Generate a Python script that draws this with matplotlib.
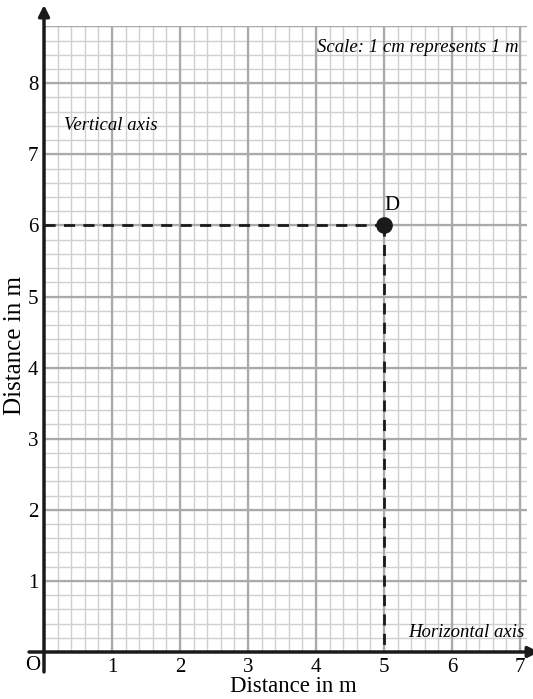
import numpy as np
import matplotlib
matplotlib.use("Agg")
import matplotlib.pyplot as plt

# data
x_ticks = [1, 2, 3, 4, 5, 6, 7]
y_ticks = [1, 2, 3, 4, 5, 6, 7, 8]
point_x = [5]
point_y = [6]
point_names = ["D"]

plt.rcParams["font.family"] = ["Liberation Serif", "DejaVu Serif"]

fig = plt.figure(figsize=(5.33, 6.99), dpi=100)
# 1 unit ~ 68 px across, ~71 px up
ax = fig.add_axes([44 / 533, 47 / 699, 7.1 * 68 / 533, 8.8 * 71.1 / 699])
ax.set_xlim(0, 7.1)
ax.set_ylim(0, 8.8)

# graph paper
minor_x = np.arange(0, 7.01, 0.2)
minor_y = np.arange(0, 8.81, 0.2)
ax.vlines(minor_x, 0, 8.8, color="#d0d0d0", lw=1.0, zorder=1)
ax.hlines(minor_y, 0, 7.1, color="#d0d0d0", lw=1.0, zorder=1)
ax.vlines(x_ticks, 0, 8.8, color="#aaaaaa", lw=1.6, zorder=2)
ax.hlines(y_ticks, 0, 7.1, color="#aaaaaa", lw=1.6, zorder=2)
ax.hlines([8.8], 0, 7.1, color="#aaaaaa", lw=1.6, zorder=2)

for s in ax.spines.values():
    s.set_visible(False)
ax.set_xticks(x_ticks)
ax.set_yticks(y_ticks)
ax.set_xticklabels([str(v) for v in x_ticks], fontsize=15)
ax.set_yticklabels([str(v) for v in y_ticks], fontsize=15)
ax.tick_params(length=0, pad=4)

# axes with arrows
ax.annotate("", xy=(7.28, 0), xytext=(-0.22, 0),
            arrowprops=dict(arrowstyle="-|>", color="#1a1a1a", lw=2.5,
                            mutation_scale=16, shrinkA=0, shrinkB=0),
            annotation_clip=False, zorder=5)
ax.annotate("", xy=(0, 9.1), xytext=(0, -0.28),
            arrowprops=dict(arrowstyle="-|>", color="#1a1a1a", lw=2.5,
                            mutation_scale=16, shrinkA=0, shrinkB=0),
            annotation_clip=False, zorder=5)
ax.text(-0.16, -0.06, "O", fontsize=15, ha="center", va="top")

# dashed guides and the point
for px, py, name in zip(point_x, point_y, point_names):
    ax.plot([0, px], [py, py], ls=(0, (4, 3)), color="#1a1a1a", lw=2, zorder=6)
    ax.plot([px, px], [py, 0], ls=(0, (4, 3)), color="#1a1a1a", lw=2, zorder=6)
    ax.plot(px, py, "o", color="#1a1a1a", ms=11, zorder=7)
    ax.text(px + 0.12, py + 0.15, name, fontsize=15, ha="center", va="bottom")

ax.text(6.98, 8.5, "Scale: 1 cm represents 1 m", style="italic", fontsize=13.5,
        ha="right", va="center")
ax.text(0.3, 7.41, "Vertical axis", style="italic", fontsize=13.5,
        ha="left", va="center")
ax.text(7.06, 0.28, "Horizontal axis", style="italic", fontsize=13.5,
        ha="right", va="center")

ax.set_xlabel("Distance in m", fontsize=16.5)
ax.xaxis.set_label_coords(0.516, -0.038)
ax.set_ylabel("Distance in m", fontsize=18)
ax.yaxis.set_label_coords(-0.038, 0.49)

fig.savefig("out.png", dpi=100)
